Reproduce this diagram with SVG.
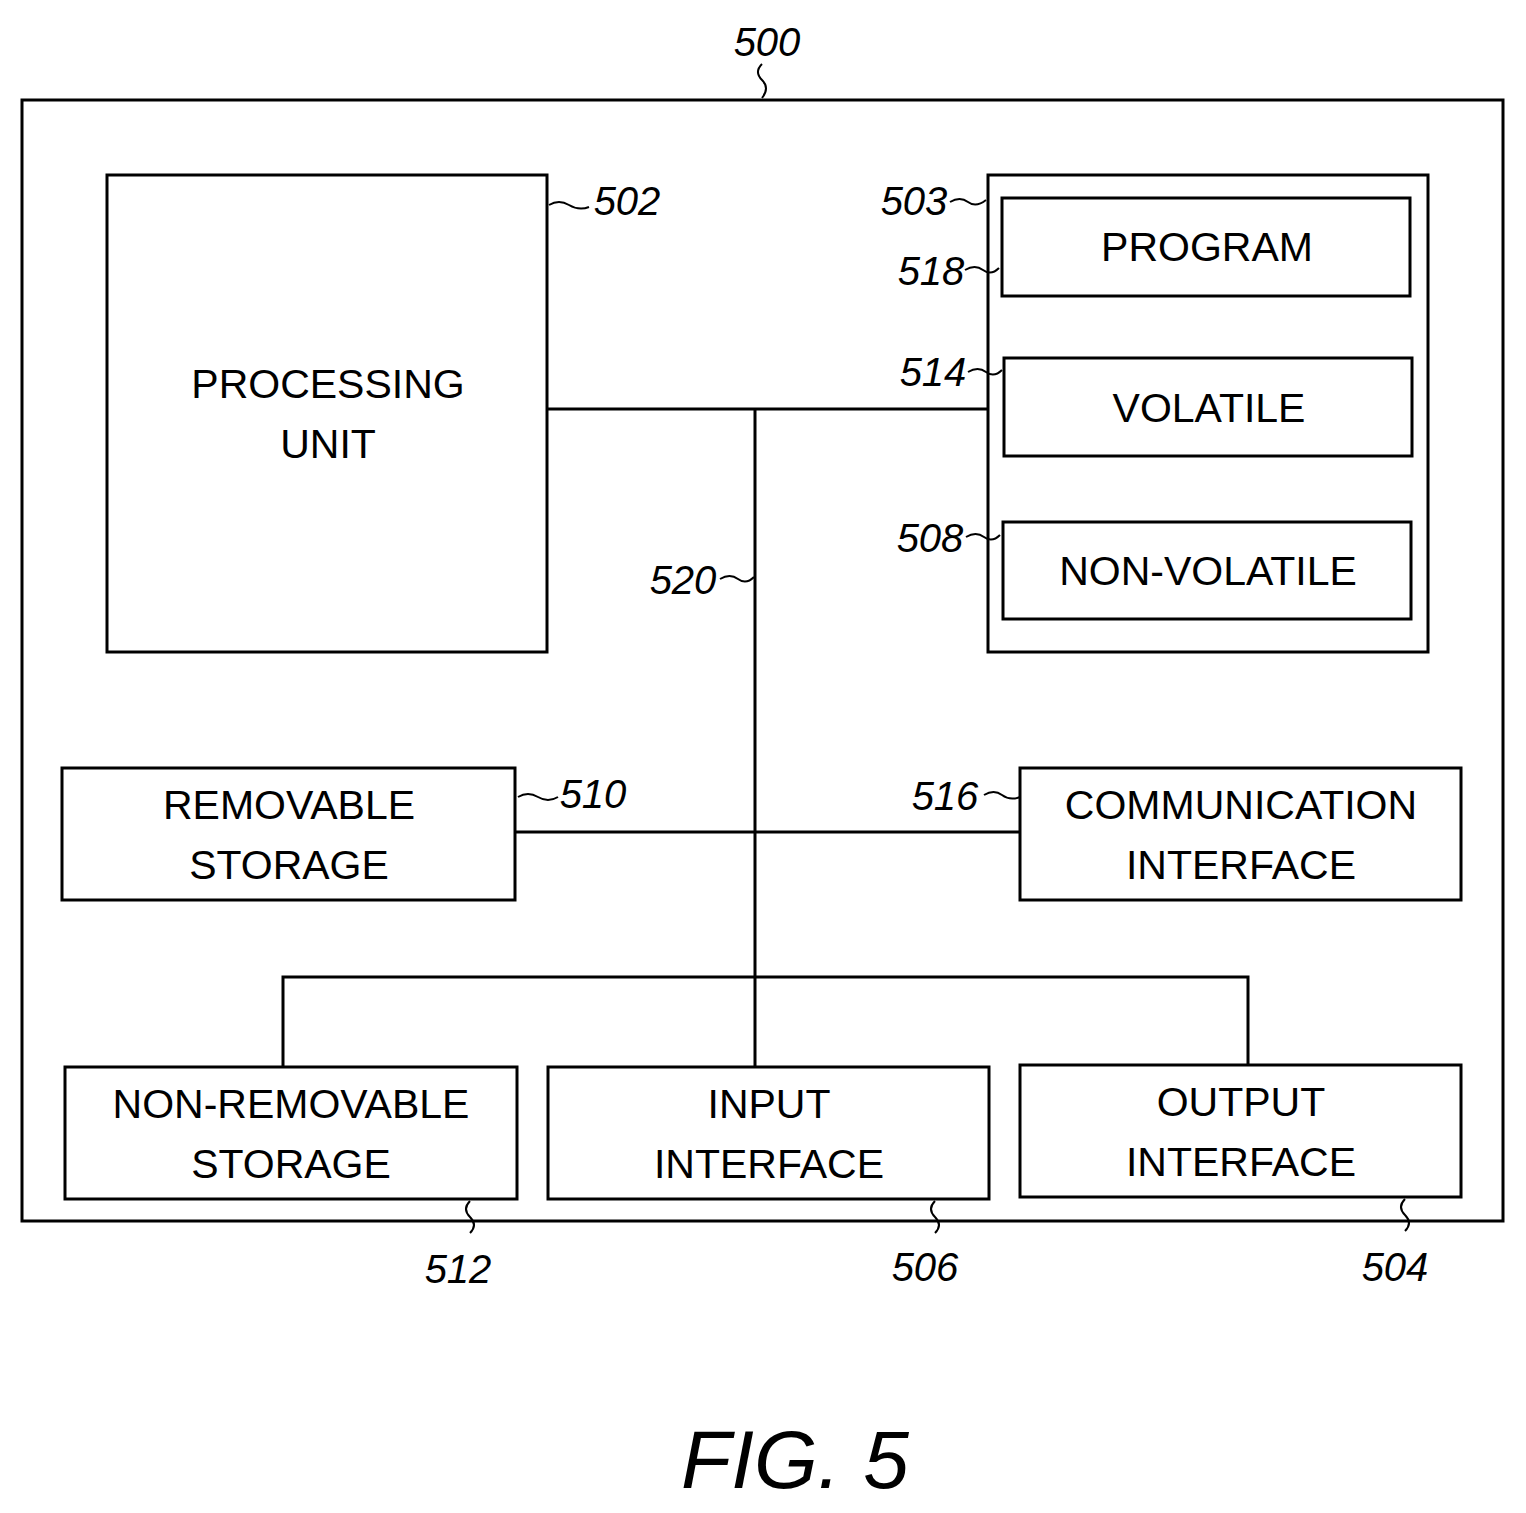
<svg xmlns="http://www.w3.org/2000/svg" width="1526" height="1513" viewBox="0 0 1526 1513">
<style>
rect{fill:#fff;stroke:#000;stroke-width:3}
.c{stroke:#000;stroke-width:3;fill:none}
.t{font-family:"Liberation Sans",Arial,sans-serif;font-size:41px;text-anchor:middle}
.r{font-family:"Liberation Sans",Arial,sans-serif;font-size:40px;font-style:italic;text-anchor:middle}
</style>
<rect width="1526" height="1513" style="stroke:none"/>
<g id="frame"><rect x="22" y="100" width="1481" height="1121"/></g>
<g id="connectors">
<path class="c" d="M547 409H988M755 409V1066M515 832H1020M283 1067V977H1248V1065"/>
</g>
<g id="n502"><rect x="107" y="175" width="440" height="477"/><text class="t" x="328" y="398">PROCESSING</text><text class="t" x="328" y="458">UNIT</text></g>
<g id="n503"><rect x="988" y="175" width="440" height="477"/></g>
<g id="n518"><rect x="1002" y="198" width="408" height="98"/><text class="t" x="1207" y="261">PROGRAM</text></g>
<g id="n514"><rect x="1004" y="358" width="408" height="98"/><text class="t" x="1209" y="422">VOLATILE</text></g>
<g id="n508"><rect x="1003" y="522" width="408" height="97"/><text class="t" x="1208" y="585">NON-VOLATILE</text></g>
<g id="n510"><rect x="62" y="768" width="453" height="132"/><text class="t" x="289" y="819">REMOVABLE</text><text class="t" x="289" y="879">STORAGE</text></g>
<g id="n516"><rect x="1020" y="768" width="441" height="132"/><text class="t" x="1241" y="819">COMMUNICATION</text><text class="t" x="1241" y="879">INTERFACE</text></g>
<g id="n512"><rect x="65" y="1067" width="452" height="132"/><text class="t" x="291" y="1118">NON-REMOVABLE</text><text class="t" x="291" y="1178">STORAGE</text></g>
<g id="n506"><rect x="548" y="1067" width="441" height="132"/><text class="t" x="769" y="1118">INPUT</text><text class="t" x="769" y="1178">INTERFACE</text></g>
<g id="n504"><rect x="1020" y="1065" width="441" height="132"/><text class="t" x="1241" y="1116">OUTPUT</text><text class="t" x="1241" y="1176">INTERFACE</text></g>
<g id="labels">
<path class="c" style="stroke-width:2" d="M762 64q-8 8 0 16t0 18M549 205q10-6 20 0t20 2M950 202q10-6 18 0t18-2M965 270q10-6 18 0t16-2M968 372q10-6 18 0t16-2M966 537q10-6 18 0t16-2M720 579q10-6 18 0t16-2M518 797q10-6 20 0t20 0M984 795q10-6 18 0t18 2M470 1201q-8 8 0 16t0 16M935 1201q-8 8 0 16t0 16M1405 1199q-8 8 0 16t0 16"/>
<text class="r" x="767" y="56">500</text>
<text class="r" x="627" y="215">502</text>
<text class="r" x="914" y="215">503</text>
<text class="r" x="931" y="285">518</text>
<text class="r" x="933" y="386">514</text>
<text class="r" x="930" y="552">508</text>
<text class="r" x="683" y="594">520</text>
<text class="r" x="593" y="808">510</text>
<text class="r" x="945" y="810">516</text>
<text class="r" x="458" y="1283">512</text>
<text class="r" x="925" y="1281">506</text>
<text class="r" x="1395" y="1281">504</text>
<text class="r" x="795" y="1488" style="font-size:82px">FIG. 5</text>
</g>
</svg>
